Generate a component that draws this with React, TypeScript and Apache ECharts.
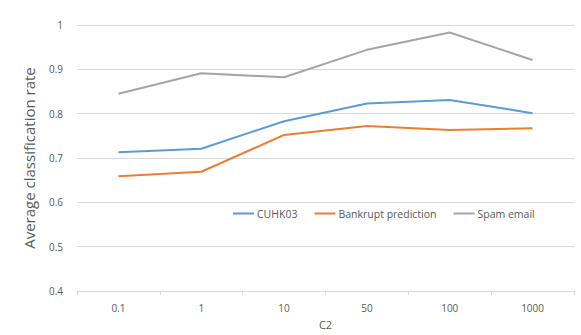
import React, { useEffect, useRef } from "react";
import * as echarts from "echarts";

const categories = ["0.1", "1", "10", "50", "100", "1000"];
const cuhk03 = [0.713, 0.721, 0.783, 0.823, 0.831, 0.801];
const bankrupt = [0.659, 0.669, 0.752, 0.772, 0.763, 0.767];
const spam = [0.845, 0.891, 0.882, 0.944, 0.983, 0.921];

const FONT = "'Open Sans', 'Liberation Sans', sans-serif";

export default function App() {
  const ref = useRef<HTMLDivElement>(null);
  useEffect(() => {
    const chart = echarts.init(ref.current!, null, { renderer: "svg" });
    const mk = (name: string, data: number[], color: string) => ({
      name,
      type: "line",
      data,
      symbol: "none",
      lineStyle: { color, width: 2 },
      itemStyle: { color },
    });
    chart.setOption({
      animation: false,
      textStyle: { fontFamily: FONT },
      grid: { left: 77, right: 7, top: 25, bottom: 42 },
      legend: {
        top: 203,
        left: 228,
        icon: "rect",
        itemWidth: 21,
        itemHeight: 2,
        itemGap: 17,
        textStyle: { color: "#595959", fontSize: 10.5, fontFamily: FONT, padding: [0, 0, 0, -2] },
        data: ["CUHK03", "Bankrupt prediction", "Spam email"],
      },
      xAxis: {
        type: "category",
        data: categories,
        boundaryGap: true,
        name: "C2",
        nameLocation: "middle",
        nameGap: 28,
        nameTextStyle: { color: "#595959", fontSize: 11 },
        axisLine: { lineStyle: { color: "#d9d9d9" } },
        axisTick: { show: true, lineStyle: { color: "#d9d9d9" }, length: 4 },
        axisLabel: { color: "#595959", fontSize: 10, margin: 12 },
        splitLine: { show: false },
      },
      yAxis: {
        type: "value",
        min: 0.4,
        max: 1,
        interval: 0.1,
        name: "Average classification rate",
        nameLocation: "middle",
        nameGap: 41,
        nameTextStyle: { color: "#595959", fontSize: 15 },
        axisLine: { show: false },
        axisTick: { show: false },
        axisLabel: { color: "#595959", fontSize: 10, margin: 14 },
        splitLine: { lineStyle: { color: "#d9d9d9" } },
      },
      series: [
        mk("CUHK03", cuhk03, "#5b9bd5"),
        mk("Bankrupt prediction", bankrupt, "#ed7d31"),
        mk("Spam email", spam, "#a5a5a5"),
      ],
    });
    return () => chart.dispose();
  }, []);
  return (
    <div
      ref={ref}
      style={{ position: "fixed", left: 0, top: 0, width: 581, height: 335, background: "#fff" }}
    />
  );
}
